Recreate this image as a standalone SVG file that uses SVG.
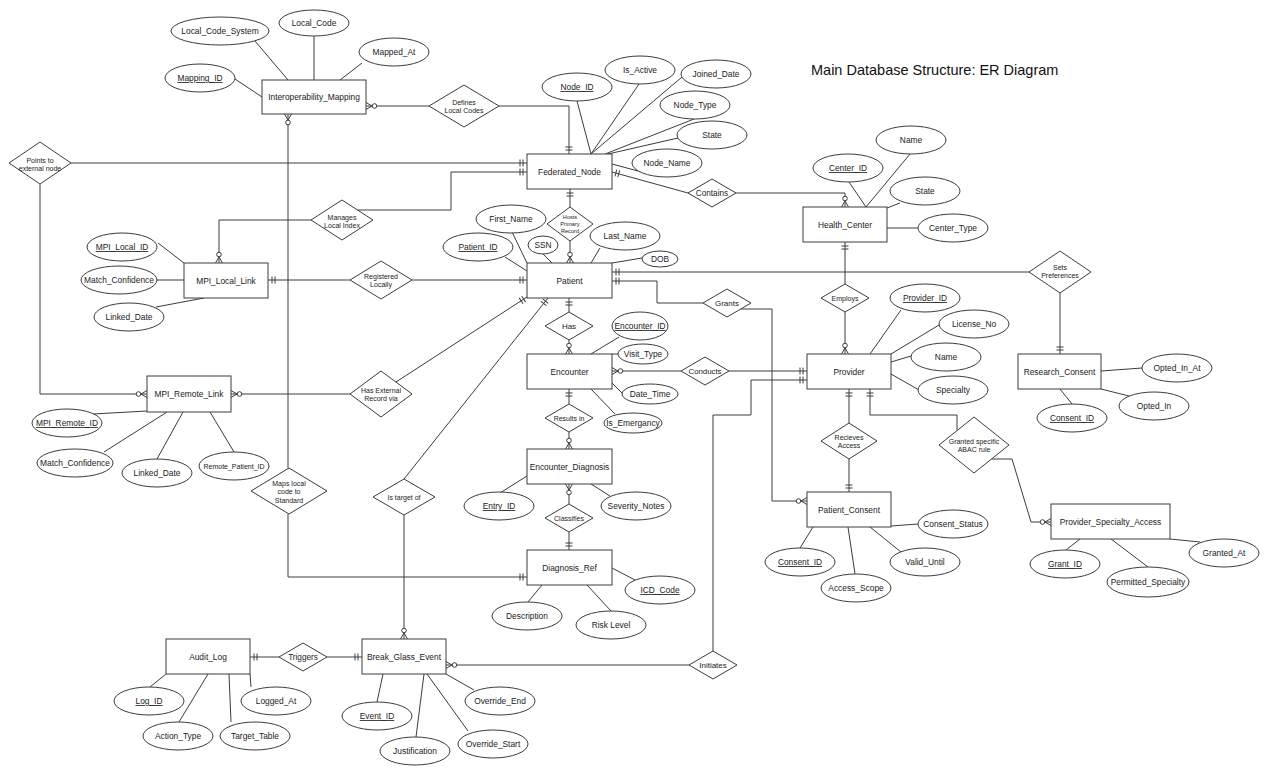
<svg xmlns="http://www.w3.org/2000/svg" width="1270" height="775" viewBox="0 0 1270 775">
<style>
text{font-family:"Liberation Sans",Arial,sans-serif;fill:#222;text-anchor:middle;font-size:8.4px}
.ent rect{fill:#fff;stroke:#3c3c3c;stroke-width:1}
.att ellipse{fill:#fff;stroke:#3c3c3c;stroke-width:1}
.rel polygon{fill:#fff;stroke:#3c3c3c;stroke-width:1}
.rel text{font-size:7px}
.u{text-decoration:underline}
#connectors path,#connectors line{fill:none;stroke:#3c3c3c;stroke-width:1}
.o{marker-end:url(#one)}
.m{marker-end:url(#many)}
.title{font-size:14.5px;text-anchor:start;fill:#111}
</style>
<defs>
<marker id="one" markerUnits="userSpaceOnUse" markerWidth="16" markerHeight="16" refX="0" refY="0" orient="auto" overflow="visible"><path d="M-4,-3.5V3.5M-7,-3.5V3.5" stroke="#3c3c3c" fill="none"/></marker>
<marker id="many" markerUnits="userSpaceOnUse" markerWidth="16" markerHeight="16" refX="0" refY="0" orient="auto" overflow="visible"><path d="M0,-3.5L-6,0L0,3.5" stroke="#3c3c3c" fill="none"/><circle cx="-8.5" cy="0" r="2.3" fill="#fff" stroke="#3c3c3c"/></marker>
</defs>
<rect width="1270" height="775" fill="#fff"/>
<text class="title" x="811" y="75">Main Database Structure: ER Diagram</text>

<g id="connectors">
<!-- attribute lines -->
<line x1="255" y1="41" x2="288" y2="80"/><line x1="314" y1="36" x2="314" y2="80"/><line x1="362" y1="63" x2="340" y2="80"/><line x1="235" y1="79" x2="262" y2="97"/>
<line x1="577" y1="101" x2="591" y2="154"/><line x1="639" y1="84" x2="591" y2="154"/><line x1="682" y1="77" x2="591" y2="154"/><line x1="694" y1="119" x2="605" y2="154"/><line x1="678" y1="138" x2="608" y2="154"/><line x1="638" y1="171" x2="612" y2="164"/>
<line x1="849" y1="182" x2="866" y2="207"/><line x1="910" y1="154" x2="866" y2="207"/><line x1="900" y1="203" x2="887" y2="208"/><line x1="918" y1="228" x2="887" y2="228"/>
<line x1="505" y1="257" x2="527" y2="271"/><line x1="512" y1="232" x2="527" y2="263"/><line x1="543" y1="254" x2="552" y2="263"/><line x1="600" y1="248" x2="591" y2="263"/><line x1="642" y1="258" x2="612" y2="263"/>
<line x1="158" y1="243" x2="184" y2="263"/><line x1="157" y1="280" x2="184" y2="280"/><line x1="156" y1="307" x2="204" y2="298"/>
<line x1="93" y1="414" x2="147" y2="411"/><line x1="104" y1="452" x2="167" y2="412"/><line x1="157" y1="459" x2="183" y2="412"/><line x1="234" y1="452" x2="210" y2="412"/>
<line x1="619" y1="337" x2="591" y2="354"/><line x1="618" y1="354" x2="612" y2="354"/><line x1="622" y1="393" x2="612" y2="383"/><line x1="615" y1="414" x2="591" y2="389"/>
<line x1="500" y1="493" x2="527" y2="476"/><line x1="610" y1="496" x2="591" y2="484"/>
<line x1="635" y1="580" x2="612" y2="568"/><line x1="528" y1="602" x2="542" y2="585"/><line x1="611" y1="611" x2="587" y2="585"/>
<line x1="901" y1="310" x2="870" y2="354"/><line x1="939" y1="325" x2="891" y2="354"/><line x1="911" y1="356" x2="891" y2="362"/><line x1="919" y1="390" x2="891" y2="374"/>
<line x1="918" y1="524" x2="891" y2="526"/><line x1="901" y1="552" x2="870" y2="527"/><line x1="855" y1="574" x2="848" y2="527"/><line x1="800" y1="548" x2="813" y2="527"/>
<line x1="1142" y1="368" x2="1101" y2="371"/><line x1="1129" y1="396" x2="1101" y2="389"/><line x1="1072" y1="404" x2="1060" y2="389"/>
<line x1="1066" y1="550" x2="1080" y2="539"/><line x1="1148" y1="567" x2="1111" y2="539"/><line x1="1200" y1="542" x2="1170" y2="539"/>
<line x1="150" y1="687" x2="166" y2="674"/><line x1="179" y1="722" x2="208" y2="674"/><line x1="231" y1="722" x2="229" y2="674"/><line x1="251" y1="687" x2="250" y2="674"/>
<line x1="377" y1="702" x2="383" y2="674"/><line x1="416" y1="737" x2="424" y2="674"/><line x1="468" y1="731" x2="427" y2="674"/><line x1="474" y1="690" x2="446" y2="674"/>
<!-- relationship connectors -->
<path class="m" d="M429,106H366"/>
<path class="o" d="M499,106H569V154"/>
<path class="o" d="M71,163H527"/>
<path class="m" d="M40,184V394H147"/>
<path class="o" d="M357.5,210H451V172H527"/>
<path class="m" d="M311,220H219V263"/>
<path class="o" d="M570,207V189"/>
<path class="m" d="M570,241V263"/>
<path class="o" d="M688,193L612,172"/>
<path class="m" d="M736,193H845V207"/>
<path class="o" d="M845,284V242"/>
<path class="m" d="M845,312V354"/>
<path class="o" d="M350,280H268"/>
<path class="o" d="M412,280H527"/>
<path class="m" d="M350,394H231"/>
<path class="o" d="M396,382L527,297"/>
<path class="m" d="M288,468V114"/>
<path class="o" d="M288,514V577H527"/>
<path class="o" d="M404,479L548,298"/>
<path class="m" d="M404,515V639"/>
<path class="o" d="M569,312V298"/>
<path class="m" d="M569,340V354"/>
<path class="o" d="M569,404V389"/>
<path class="m" d="M569,432V449"/>
<path class="m" d="M569,504V484"/>
<path class="o" d="M569,532V550"/>
<path class="o" d="M703,303H657V281H612"/>
<path class="m" d="M740.7,309H772V501H807"/>
<path class="o" d="M1029,272H612"/>
<path class="o" d="M1060,293V354"/>
<path class="m" d="M681,371H612"/>
<path class="o" d="M729,371H807"/>
<path class="o" d="M849,423V389"/>
<path class="o" d="M849,459V492"/>
<path class="o" d="M957,430.6V415H870V389"/>
<path class="m" d="M991.5,459H1012L1031,522H1051"/>
<path class="o" d="M279,657H250"/>
<path class="o" d="M327,657H362"/>
<path class="o" d="M713,651V415H751V380H807"/>
<path class="m" d="M689,665H446"/>
</g>

<!-- entities -->
<g id="Interoperability_Mapping" class="ent"><rect x="262" y="80" width="104" height="34"/><text x="314" y="100">Interoperability_Mapping</text></g>
<g id="Federated_Node" class="ent"><rect x="527" y="154" width="85" height="35"/><text x="569.5" y="174.5">Federated_Node</text></g>
<g id="Health_Center" class="ent"><rect x="803" y="207" width="84" height="35"/><text x="845" y="227.5">Health_Center</text></g>
<g id="Patient" class="ent"><rect x="527" y="263" width="85" height="35"/><text x="569.5" y="283.5">Patient</text></g>
<g id="MPI_Local_Link" class="ent"><rect x="184" y="263" width="84" height="35"/><text x="226" y="283.5">MPI_Local_Link</text></g>
<g id="MPI_Remote_Link" class="ent"><rect x="147" y="376" width="84" height="36"/><text x="189" y="397">MPI_Remote_Link</text></g>
<g id="Encounter" class="ent"><rect x="527" y="354" width="85" height="35"/><text x="569.5" y="374.5">Encounter</text></g>
<g id="Encounter_Diagnosis" class="ent"><rect x="527" y="449" width="85" height="35"/><text x="569.5" y="469.5">Encounter_Diagnosis</text></g>
<g id="Diagnosis_Ref" class="ent"><rect x="527" y="550" width="85" height="35"/><text x="569.5" y="570.5">Diagnosis_Ref</text></g>
<g id="Provider" class="ent"><rect x="807" y="354" width="84" height="35"/><text x="849" y="374.5">Provider</text></g>
<g id="Patient_Consent" class="ent"><rect x="807" y="492" width="84" height="35"/><text x="849" y="512.5">Patient_Consent</text></g>
<g id="Research_Consent" class="ent"><rect x="1018" y="354" width="83" height="35"/><text x="1059.5" y="374.5">Research_Consent</text></g>
<g id="Provider_Specialty_Access" class="ent"><rect x="1051" y="504" width="119" height="35"/><text x="1110.5" y="524.5">Provider_Specialty_Access</text></g>
<g id="Audit_Log" class="ent"><rect x="166" y="639" width="84" height="35"/><text x="208" y="659.5">Audit_Log</text></g>
<g id="Break_Glass_Event" class="ent"><rect x="362" y="639" width="84" height="35"/><text x="404" y="659.5">Break_Glass_Event</text></g>

<!-- relationships -->
<g id="rel_defines" class="rel"><polygon points="429,106 464,85 499,106 464,127"/><text x="464" y="104.5">Defines</text><text x="464" y="112.5">Local Codes</text></g>
<g id="rel_points" class="rel"><polygon points="9,163 40,142 71,163 40,184"/><text x="40" y="162.5">Points to</text><text x="40" y="170.5">external node</text></g>
<g id="rel_manages" class="rel"><polygon points="311,220 342,200 373,220 342,240"/><text x="342" y="219.5">Manages</text><text x="342" y="227.5">Local Index</text></g>
<g id="rel_hosts" class="rel"><polygon points="547,224 570,207 593,224 570,241"/><text x="570" y="219" style="font-size:5.6px">Hosts</text><text x="570" y="226" style="font-size:5.6px">Primary</text><text x="570" y="233" style="font-size:5.6px">Record</text></g>
<g id="rel_contains" class="rel"><polygon points="688,193 712,179 736,193 712,207"/><text x="712" y="196" style="font-size:8.2px">Contains</text></g>
<g id="rel_registered" class="rel"><polygon points="350,280 381,261 412,280 381,299"/><text x="381" y="278.5">Registered</text><text x="381" y="286.5">Locally</text></g>
<g id="rel_hasext" class="rel"><polygon points="350,394 381,371 412,394 381,417"/><text x="381" y="392.5">Has External</text><text x="381" y="400.5">Record via</text></g>
<g id="rel_maps" class="rel"><polygon points="251,491 289,468 327,491 289,514"/><text x="289" y="485.5">Maps local</text><text x="289" y="494">code to</text><text x="289" y="502.5">Standard</text></g>
<g id="rel_target" class="rel"><polygon points="373,497 404,479 435,497 404,515"/><text x="404" y="499.5">Is target of</text></g>
<g id="rel_has" class="rel"><polygon points="545,326 569,312 593,326 569,340"/><text x="569" y="329" style="font-size:8px">Has</text></g>
<g id="rel_results" class="rel"><polygon points="545,418 569,404 593,418 569,432"/><text x="569" y="420.5">Results in</text></g>
<g id="rel_classifies" class="rel"><polygon points="545,518 569,504 593,518 569,532"/><text x="569" y="520.5">Classifies</text></g>
<g id="rel_grants" class="rel"><polygon points="703,303 727,289 751,303 727,317"/><text x="727" y="306" style="font-size:8px">Grants</text></g>
<g id="rel_conducts" class="rel"><polygon points="681,371 705,357 729,371 705,385"/><text x="705" y="374" style="font-size:7.8px">Conducts</text></g>
<g id="rel_employs" class="rel"><polygon points="821,298 845,284 869,298 845,312"/><text x="845" y="300.5">Employs</text></g>
<g id="rel_recieves" class="rel"><polygon points="821,441 849,423 877,441 849,459"/><text x="849" y="439.5">Recieves</text><text x="849" y="448">Access</text></g>
<g id="rel_sets" class="rel"><polygon points="1029,272 1060,251 1091,272 1060,293"/><text x="1060" y="269.5">Sets</text><text x="1060" y="277.5">Preferences</text></g>
<g id="rel_abac" class="rel"><polygon points="939,445 974,417 1009,445 974,473"/><text x="974" y="443.5">Granted specific</text><text x="974" y="451.5">ABAC rule</text></g>
<g id="rel_triggers" class="rel"><polygon points="279,657 303,643 327,657 303,671"/><text x="303" y="660" style="font-size:8.2px">Triggers</text></g>
<g id="rel_initiates" class="rel"><polygon points="689,665 713,651 737,665 713,679"/><text x="713" y="668" style="font-size:8px">Initiates</text></g>

<!-- attributes -->
<g id="a_local_code_system" class="att"><ellipse cx="220" cy="31" rx="49" ry="14"/><text x="220" y="34">Local_Code_System</text></g>
<g id="a_local_code" class="att"><ellipse cx="314" cy="23" rx="35" ry="13"/><text x="314" y="26">Local_Code</text></g>
<g id="a_mapped_at" class="att"><ellipse cx="394" cy="52" rx="35" ry="14"/><text x="394" y="55">Mapped_At</text></g>
<g id="a_mapping_id" class="att"><ellipse cx="200" cy="78" rx="35" ry="14"/><text class="u" x="200" y="81">Mapping_ID</text></g>
<g id="a_node_id" class="att"><ellipse cx="577" cy="87" rx="35" ry="14"/><text class="u" x="577" y="90">Node_ID</text></g>
<g id="a_is_active" class="att"><ellipse cx="640" cy="70" rx="35" ry="14"/><text x="640" y="73">Is_Active</text></g>
<g id="a_joined_date" class="att"><ellipse cx="716" cy="74" rx="35" ry="14"/><text x="716" y="77">Joined_Date</text></g>
<g id="a_node_type" class="att"><ellipse cx="695" cy="105" rx="35" ry="14"/><text x="695" y="108">Node_Type</text></g>
<g id="a_node_state" class="att"><ellipse cx="712" cy="135" rx="35" ry="14"/><text x="712" y="138">State</text></g>
<g id="a_node_name" class="att"><ellipse cx="667" cy="163" rx="35" ry="14"/><text x="667" y="166">Node_Name</text></g>
<g id="a_center_id" class="att"><ellipse cx="848" cy="168" rx="35" ry="14"/><text class="u" x="848" y="171">Center_ID</text></g>
<g id="a_center_name" class="att"><ellipse cx="911" cy="140" rx="35" ry="14"/><text x="911" y="143">Name</text></g>
<g id="a_center_state" class="att"><ellipse cx="925" cy="191" rx="35" ry="14"/><text x="925" y="194">State</text></g>
<g id="a_center_type" class="att"><ellipse cx="953" cy="228" rx="35" ry="14"/><text x="953" y="231">Center_Type</text></g>
<g id="a_first_name" class="att"><ellipse cx="511" cy="219" rx="35" ry="14"/><text x="511" y="222">First_Name</text></g>
<g id="a_patient_id" class="att"><ellipse cx="478" cy="247" rx="35" ry="14"/><text class="u" x="478" y="250">Patient_ID</text></g>
<g id="a_ssn" class="att"><ellipse cx="543" cy="245" rx="15" ry="9"/><text x="543" y="248">SSN</text></g>
<g id="a_last_name" class="att"><ellipse cx="625" cy="236" rx="35" ry="14"/><text x="625" y="239">Last_Name</text></g>
<g id="a_dob" class="att"><ellipse cx="660" cy="259" rx="18" ry="8"/><text x="660" y="262">DOB</text></g>
<g id="a_mpi_local_id" class="att"><ellipse cx="122" cy="247" rx="35" ry="14"/><text class="u" x="122" y="250">MPI_Local_ID</text></g>
<g id="a_local_match" class="att"><ellipse cx="119" cy="280" rx="38" ry="14"/><text x="119" y="283">Match_Confidence</text></g>
<g id="a_local_linked" class="att"><ellipse cx="129" cy="317" rx="35" ry="14"/><text x="129" y="320">Linked_Date</text></g>
<g id="a_mpi_remote_id" class="att"><ellipse cx="67" cy="423" rx="35" ry="14"/><text class="u" x="67" y="426">MPI_Remote_ID</text></g>
<g id="a_remote_match" class="att"><ellipse cx="75" cy="463" rx="38" ry="14"/><text x="75" y="466">Match_Confidence</text></g>
<g id="a_remote_linked" class="att"><ellipse cx="157" cy="473" rx="35" ry="14"/><text x="157" y="476">Linked_Date</text></g>
<g id="a_remote_patient" class="att"><ellipse cx="234" cy="466" rx="35" ry="14"/><text x="234" y="468.5" style="font-size:7px">Remote_Patient_ID</text></g>
<g id="a_encounter_id" class="att"><ellipse cx="640" cy="326" rx="28" ry="14"/><text class="u" x="640" y="329">Encounter_ID</text></g>
<g id="a_visit_type" class="att"><ellipse cx="643" cy="354" rx="25" ry="10"/><text x="643" y="357">Visit_Type</text></g>
<g id="a_date_time" class="att"><ellipse cx="650" cy="394" rx="28" ry="10"/><text x="650" y="397">Date_Time</text></g>
<g id="a_is_emergancy" class="att"><ellipse cx="633" cy="423" rx="29" ry="10"/><text x="633" y="426">Is_Emergancy</text></g>
<g id="a_entry_id" class="att"><ellipse cx="499" cy="506" rx="35" ry="14"/><text class="u" x="499" y="509">Entry_ID</text></g>
<g id="a_severity" class="att"><ellipse cx="636" cy="506" rx="35" ry="14"/><text x="636" y="509">Severity_Notes</text></g>
<g id="a_icd_code" class="att"><ellipse cx="660" cy="590" rx="35" ry="14"/><text class="u" x="660" y="593">ICD_Code</text></g>
<g id="a_description" class="att"><ellipse cx="527" cy="616" rx="35" ry="14"/><text x="527" y="619">Description</text></g>
<g id="a_risk_level" class="att"><ellipse cx="611" cy="625" rx="35" ry="14"/><text x="611" y="628">Risk Level</text></g>
<g id="a_provider_id" class="att"><ellipse cx="925" cy="298" rx="35" ry="14"/><text class="u" x="925" y="301">Provider_ID</text></g>
<g id="a_license_no" class="att"><ellipse cx="974" cy="324" rx="35" ry="14"/><text x="974" y="327">License_No</text></g>
<g id="a_provider_name" class="att"><ellipse cx="946" cy="357" rx="35" ry="14"/><text x="946" y="360">Name</text></g>
<g id="a_specialty" class="att"><ellipse cx="953" cy="390" rx="35" ry="14"/><text x="953" y="393">Specialty</text></g>
<g id="a_consent_status" class="att"><ellipse cx="953" cy="524" rx="35" ry="14"/><text x="953" y="527">Consent_Status</text></g>
<g id="a_valid_until" class="att"><ellipse cx="925" cy="562" rx="35" ry="14"/><text x="925" y="565">Valid_Until</text></g>
<g id="a_access_scope" class="att"><ellipse cx="856" cy="588" rx="35" ry="14"/><text x="856" y="591">Access_Scope</text></g>
<g id="a_pc_consent_id" class="att"><ellipse cx="800" cy="562" rx="35" ry="14"/><text class="u" x="800" y="565">Consent_ID</text></g>
<g id="a_opted_in_at" class="att"><ellipse cx="1177" cy="368" rx="35" ry="14"/><text x="1177" y="371">Opted_In_At</text></g>
<g id="a_opted_in" class="att"><ellipse cx="1154" cy="406" rx="35" ry="14"/><text x="1154" y="409">Opted_In</text></g>
<g id="a_rc_consent_id" class="att"><ellipse cx="1072" cy="418" rx="35" ry="14"/><text class="u" x="1072" y="421">Consent_ID</text></g>
<g id="a_grant_id" class="att"><ellipse cx="1065" cy="564" rx="35" ry="14"/><text class="u" x="1065" y="567">Grant_ID</text></g>
<g id="a_permitted" class="att"><ellipse cx="1148" cy="582" rx="41" ry="15"/><text x="1148" y="585">Permitted_Specialty</text></g>
<g id="a_granted_at" class="att"><ellipse cx="1224" cy="553" rx="35" ry="14"/><text x="1224" y="556">Granted_At</text></g>
<g id="a_log_id" class="att"><ellipse cx="149" cy="701" rx="35" ry="14"/><text class="u" x="149" y="704">Log_ID</text></g>
<g id="a_action_type" class="att"><ellipse cx="178" cy="736" rx="35" ry="14"/><text x="178" y="739">Action_Type</text></g>
<g id="a_target_table" class="att"><ellipse cx="255" cy="736" rx="35" ry="14"/><text x="255" y="739">Target_Table</text></g>
<g id="a_logged_at" class="att"><ellipse cx="276" cy="701" rx="35" ry="14"/><text x="276" y="704">Logged_At</text></g>
<g id="a_event_id" class="att"><ellipse cx="377" cy="716" rx="35" ry="14"/><text class="u" x="377" y="719">Event_ID</text></g>
<g id="a_justification" class="att"><ellipse cx="415" cy="751" rx="35" ry="14"/><text x="415" y="754">Justification</text></g>
<g id="a_override_start" class="att"><ellipse cx="493" cy="744" rx="35" ry="14"/><text x="493" y="747">Override_Start</text></g>
<g id="a_override_end" class="att"><ellipse cx="500" cy="701" rx="35" ry="14"/><text x="500" y="704">Override_End</text></g>
</svg>
